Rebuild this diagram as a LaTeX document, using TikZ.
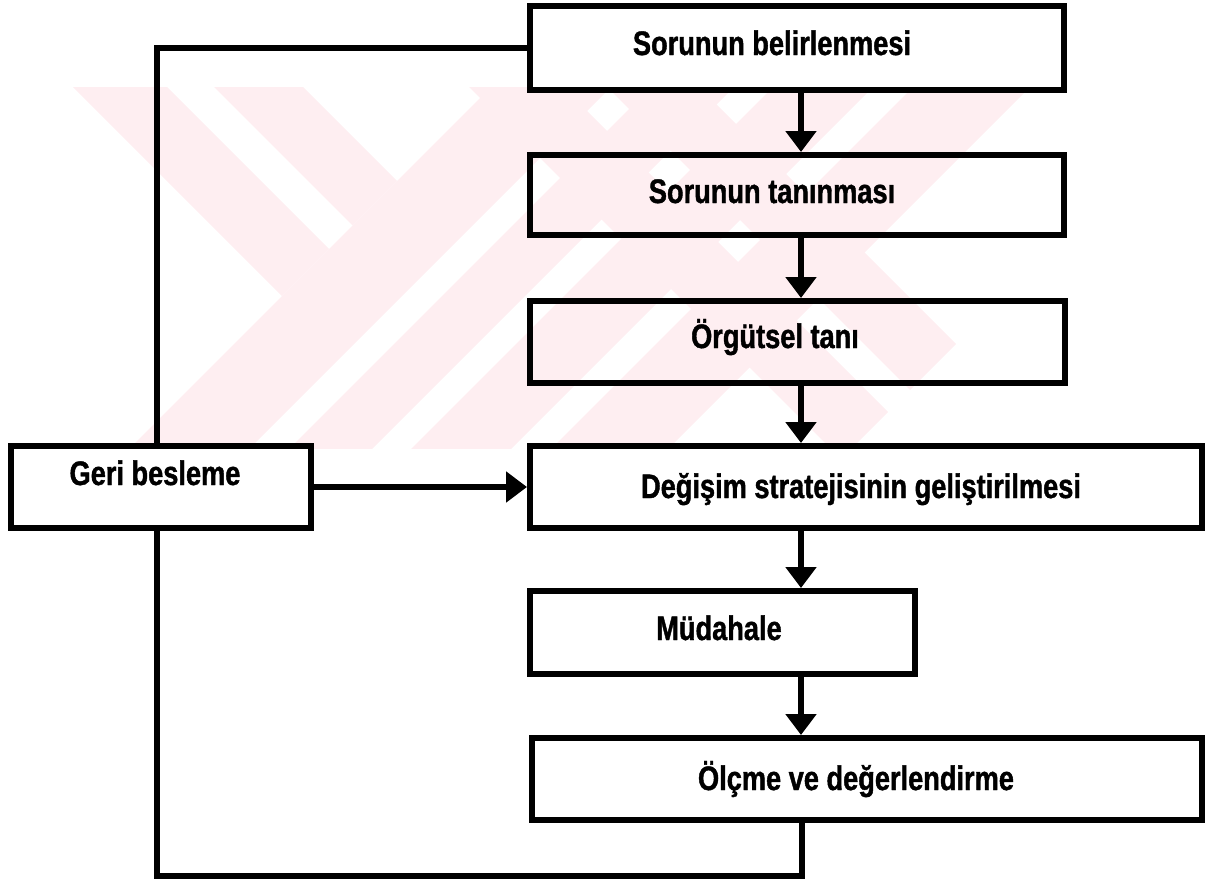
\documentclass[tikz,border=0pt]{standalone}
\usepackage{fontspec}
\newfontfamily\lblfont[FakeStretch=0.80,FakeBold=1.2]{Liberation Sans}
\usetikzlibrary{arrows.meta}
\definecolor{wmpink}{RGB}{254,238,241}
\tikzset{
  box/.style={draw=black, line width=6pt, rectangle, inner sep=0pt},
  lbl/.style={font=\lblfont\bfseries\fontsize{34}{38}\selectfont, inner sep=0pt, anchor=base},
  conn/.style={draw=black, line width=5.5pt},
  arr/.style={conn, -{Triangle[width=30pt,length=21pt]}},
  wm/.style={fill=wmpink, draw=none},
}
\begin{document}
\begin{tikzpicture}[x=1pt,y=-1pt]
\useasboundingbox (0,0) rectangle (1207,881);
% faint watermark
\begin{scope}
\clip (73,87) rectangle (1090,448);
% upper-left arm (two stripes)
\fill[wm] (-7,7) -- (282,296) -- (329,249) -- (40,-40) -- cycle;
\fill[wm] (63.5,-63.5) -- (352.5,225.5) -- (397,181) -- (108,-108) -- cycle;
% long "/" stroke (two stripes)
\fill[wm] (39,539) -- (789,-211) -- (849,-151) -- (99,599) -- cycle;
\fill[wm] (119,619) -- (869,-131) -- (910.5,-89.5) -- (160.5,660.5) -- cycle;
% X: "/" stroke
\fill[wm] (180,680) -- (930,-70) -- (980,-20) -- (230,730) -- cycle;
\fill[wm] (250,750) -- (1000,0) -- (1058.5,58.5) -- (308.5,808.5) -- cycle;
% X: "\" stroke
\fill[wm] (241,-141) -- (841,459) -- (888,412) -- (288,-188) -- cycle;
\fill[wm] (310,-210) -- (910,390) -- (956,344) -- (356,-256) -- cycle;
\end{scope}
% boxes
\node[box, minimum width=534pt, minimum height=84pt] (b1) at (797,48) {};
\node[box, minimum width=534pt, minimum height=80pt] (b2) at (797,195) {};
\node[box, minimum width=535pt, minimum height=82pt] (b3) at (797.5,342) {};
\node[box, minimum width=672pt, minimum height=82pt] (b4) at (866,487) {};
\node[box, minimum width=300pt, minimum height=82pt] (gb) at (161,487) {};
\node[box, minimum width=385pt, minimum height=83pt] (b5) at (722.5,632.5) {};
\node[box, minimum width=670pt, minimum height=82pt] (b6) at (867,779) {};
% labels
\node[lbl] (t1) at (772,55) {Sorunun belirlenmesi};
\node[lbl] (t2) at (772,203) {Sorunun tanınması};
\node[lbl] (t3) at (775,348) {Örgütsel tanı};
\node[lbl] (t4) at (861,498) {Değişim stratejisinin geliştirilmesi};
\node[lbl] (tg) at (155,485) {Geri besleme};
\node[lbl] (t5) at (719,640) {Müdahale};
\node[lbl] (t6) at (856,790) {Ölçme ve değerlendirme};
% connectors
\coordinate (ax) at (801,0);
\coordinate (lx) at (157,0);
\coordinate (c1) at (157,876);
\coordinate (c2) at (802,876);
\draw[arr] (b1.south -| ax) -- (b2.north -| ax);
\draw[arr] (b2.south -| ax) -- (b3.north -| ax);
\draw[arr] (b3.south -| ax) -- (b4.north -| ax);
\draw[arr] (b4.south -| ax) -- (b5.north -| ax);
\draw[arr] (b5.south -| ax) -- (b6.north -| ax);
\draw[arr] (gb.east) -- (b4.west);
\draw[conn] (b1.west) -| (gb.north -| lx);
\draw[conn] (gb.south -| lx) -- (c1) -- (c2) -- (b6.south -| c2);
\end{tikzpicture}
\end{document}
